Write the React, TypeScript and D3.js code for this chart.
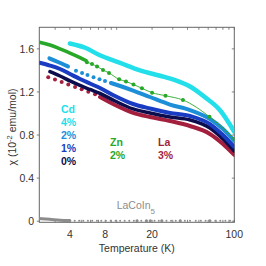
import * as d3 from "d3";

// temperatures (K) and susceptibility (10^-2 emu/mol)
const cd4T = [4.0, 5.4, 7.2, 10.7, 15.8, 23.4, 31.3, 42, 56.4, 75.6, 100];
const cd4V = [1.65, 1.61, 1.54, 1.47, 1.4, 1.35, 1.31, 1.25, 1.15, 1.03, 0.83];

const znSolidT = [2.2, 2.71, 3.3, 4.01, 4.88, 5.49];
const znSolidV = [1.661, 1.636, 1.599, 1.561, 1.519, 1.491];
const znDotT = [5.59, 6.17, 6.81, 7.65, 8.61, 10.5, 12.0, 13.9, 16.4, 20.0, 26.0, 36.6, 61.5, 100];
const znDotV = [1.475, 1.459, 1.436, 1.404, 1.376, 1.317, 1.297, 1.269, 1.234, 1.193, 1.165, 1.125, 0.97, 0.763];

const cd2SolidT = [2.68, 3.17, 3.86];
const cd2SolidV = [1.512, 1.478, 1.436];
const cd2DotT = [4.51, 5.08, 5.65, 6.36, 7.15, 7.96];
const cd2DotV = [1.397, 1.376, 1.357, 1.336, 1.317, 1.302];
const cd2HighT = [8.95, 10.7, 13.8, 19.2, 28.4, 42, 62.1, 80.1, 100];
const cd2HighV = [1.283, 1.255, 1.213, 1.153, 1.083, 1.032, 0.949, 0.856, 0.745];

const cd1T = [2.21, 2.71, 3.3, 4.01, 4.88, 5.93, 7.22, 9.68, 13.8, 19.2, 28.4, 42, 62.1, 80.1, 100];
const cd1V = [1.471, 1.445, 1.413, 1.367, 1.32, 1.278, 1.237, 1.162, 1.088, 1.046, 1.005, 0.977, 0.902, 0.8, 0.689];

const cd0T = [2.71, 3.3, 4.01, 4.88, 5.93, 7.22, 9.68, 13.8, 19.2, 28.4, 42, 62.1, 80.1, 100];
const cd0V = [1.388, 1.348, 1.302, 1.26, 1.223, 1.186, 1.116, 1.042, 1.005, 0.967, 0.94, 0.865, 0.763, 0.652];

const laDotT = [2.62, 2.99, 3.41, 3.88, 4.43, 5.04, 5.74, 6.55];
const laDotV = [1.336, 1.316, 1.292, 1.269, 1.246, 1.225, 1.202, 1.178];
const laSolidT = [7.22, 9.68, 13.8, 19.2, 28.4, 42, 62.1, 80.1, 100];
const laSolidV = [1.153, 1.079, 1.005, 0.967, 0.93, 0.884, 0.81, 0.717, 0.615];

const pureSolidT = [2.2, 2.7, 3.3, 4.0];
const pureSolidV = [0.025, 0.018, 0.01, 0.006];
const pureDotT = [4.4, 4.8, 5.2, 5.7, 6.2, 6.8, 7.4, 8.1, 8.9, 9.8, 10.7, 11.7, 12.8, 14.0, 14.9, 16.2, 17.9, 19.3, 21, 22.8, 24.2, 26.5, 29, 31.8, 34.7, 38, 42, 47, 52, 57, 62, 69, 76, 84, 92];
const bigDotT = [14.9, 17.9, 19.3, 24.2, 34.7, 62];

const xTicks = [4, 8, 20, 100];
const xMinor = [3, 5, 6, 7, 9, 10, 30, 40, 50, 60, 70, 80, 90];
const yTicks = [0, 0.4, 0.8, 1.2, 1.6];

const C = {
  cd4: "#22dfea",
  cd2: "#1c8fd8",
  cd1: "#1a3cc2",
  cd0: "#0d0d4d",
  zn: "#28a828",
  la: "#a41f3d",
  pure: "#8c8c8c",
  axis: "#666",
  text: "#333",
};

const W = 266;
const H = 266;
const L = 39.3, R = 234.3, T = 27.3, B = 222.3;

const x = d3.scaleLog().domain([2.2, 100]).range([L, R]);
const y = d3.scaleLinear().domain([-0.01, 1.8]).range([B, T]);

const zip = (ts: number[], vs: number[]) => ts.map((t, i) => [t, vs[i]] as [number, number]);

const line = d3
  .line<[number, number]>()
  .x(d => x(d[0]))
  .y(d => y(d[1]))
  .curve(d3.curveMonotoneX);

const font = "'Liberation Sans', Arial, Helvetica, sans-serif";

function Dots({ pts, color, r }: { pts: [number, number][]; color: string; r: number }) {
  return (
    <g fill={color}>
      {pts.map((d, i) => (
        <circle key={i} cx={x(d[0])} cy={y(d[1])} r={r} />
      ))}
    </g>
  );
}

export default function App() {
  const znAll = zip(znDotT, znDotV);
  return (
    <svg
      width={W}
      height={H}
      viewBox={`0 0 ${W} ${H}`}
      style={{ position: "absolute", left: 0, top: 0, background: "#fff" }}
      fontFamily={font}
    >
      <defs>
        <clipPath id="plot">
          <rect x={L} y={T} width={R - L} height={B - T} />
        </clipPath>
      </defs>

      {/* frame and ticks */}
      <rect x={L} y={T} width={R - L} height={B - T} fill="none" stroke={C.axis} strokeWidth={1} />
      {[...xTicks, ...xMinor].map(t => (
        <g key={"xt" + t} stroke={C.axis} strokeWidth={0.8}>
          <line x1={x(t)} x2={x(t)} y1={T} y2={T + 2.5} />
          <line x1={x(t)} x2={x(t)} y1={B} y2={B - 2.5} />
        </g>
      ))}
      {yTicks.map(v => (
        <g key={"yt" + v} stroke={C.axis} strokeWidth={0.8}>
          <line x1={L - 2.5} x2={L} y1={y(v)} y2={y(v)} />
          <line x1={R} x2={R - 2.5} y1={y(v)} y2={y(v)} />
        </g>
      ))}
      {xTicks.map(t => (
        <text key={"xl" + t} x={x(t)} y={237.5} fontSize={10.5} fill={C.text} textAnchor="middle">
          {t}
        </text>
      ))}
      {yTicks.map(v => (
        <text key={"yl" + v} x={34} y={y(v) + 3.7} fontSize={10.5} fill={C.text} textAnchor="end">
          {v === 0 ? "0" : v.toFixed(1)}
        </text>
      ))}
      <text x={(L + R) / 2} y={252} fontSize={10.5} fill={C.text} textAnchor="middle">
        Temperature (K)
      </text>
      <text transform="translate(15.5,127) rotate(-90)" fontSize={10.5} fill={C.text} textAnchor="middle">
        χ (10<tspan dy={-4} fontSize={7.5}>-2</tspan>
        <tspan dy={4}> emu/mol)</tspan>
      </text>

      {/* data */}
      <g clipPath="url(#plot)" fill="none" strokeLinecap="round" strokeLinejoin="round">
        <path d={line(zip(pureSolidT, pureSolidV)) || ""} stroke={C.pure} strokeWidth={3} />
        <Dots pts={pureDotT.map(t => [t, 0.004] as [number, number])} color={C.pure} r={1} />
        <Dots pts={bigDotT.map(t => [t, 0.004] as [number, number])} color={C.pure} r={1.6} />

        <Dots pts={zip(laDotT, laDotV)} color={C.la} r={2} />
        <path d={line(zip(laSolidT, laSolidV)) || ""} stroke={C.la} strokeWidth={4} />

        <path d={line(zip(cd0T, cd0V)) || ""} stroke={C.cd0} strokeWidth={3.5} />
        <path d={line(zip(cd1T, cd1V)) || ""} stroke={C.cd1} strokeWidth={4} />

        <path d={line(zip(cd2SolidT, cd2SolidV)) || ""} stroke={C.cd2} strokeWidth={4} />
        <Dots pts={zip(cd2DotT, cd2DotV)} color={C.cd2} r={2} />
        <path d={line(zip(cd2HighT, cd2HighV)) || ""} stroke={C.cd2} strokeWidth={4} />

        <path d={line(zip(cd4T, cd4V)) || ""} stroke={C.cd4} strokeWidth={4.5} />

        <path d={line(zip(znSolidT, znSolidV)) || ""} stroke={C.zn} strokeWidth={3.5} />
        <path d={line(znAll) || ""} stroke={C.zn} strokeWidth={0.9} />
        <Dots pts={znAll} color={C.zn} r={2} />
      </g>

      {/* labels */}
      <g fontSize={10.5} fontWeight="bold">
        <text x={61} y={113.3} fill={C.cd4}>Cd</text>
        <text x={61} y={126.2} fill={C.cd4}>4%</text>
        <text x={61} y={139.1} fill={C.cd2}>2%</text>
        <text x={61} y={152} fill={C.cd1}>1%</text>
        <text x={61} y={164.9} fill={C.cd0}>0%</text>
        <text x={110} y={145.7} fill={C.zn}>Zn</text>
        <text x={110} y={158.8} fill={C.zn}>2%</text>
        <text x={158} y={145.5} fill={C.la}>La</text>
        <text x={158} y={158.6} fill={C.la}>3%</text>
      </g>
      <text x={116.7} y={209} fontSize={10.5} fill={C.pure}>
        LaCoIn<tspan dy={5} fontSize={8}>5</tspan>
      </text>
    </svg>
  );
}
